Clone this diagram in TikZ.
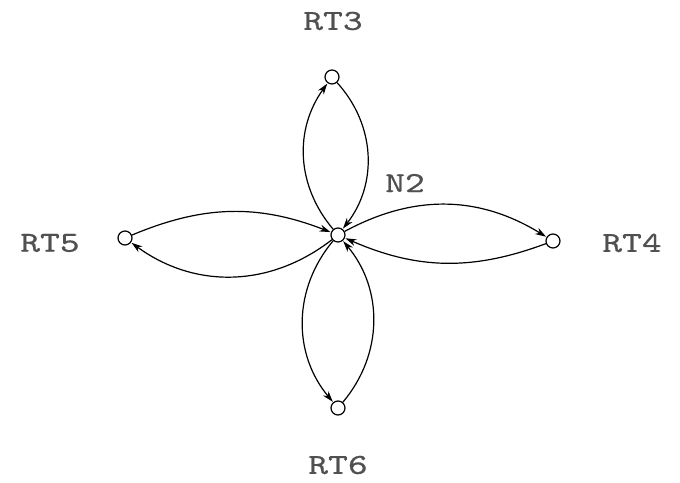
\documentclass[tikz,border=0pt]{standalone}
\usepackage{fontspec}
\usetikzlibrary{arrows.meta}
\newfontfamily\labfont{lmmono10-regular.otf}[FakeStretch=1.3,FakeBold=0.6]
\definecolor{labgray}{HTML}{505050}
\begin{document}
\begin{tikzpicture}[x=1pt,y=-1pt,
  vtx/.style={circle,draw=black,line width=1.2pt,fill=white,minimum size=14pt,inner sep=0pt},
  lab/.style={text=labgray,font=\labfont\fontsize{29}{30}\selectfont,inner sep=0pt},
  edge/.style={line width=1.2pt,-{Stealth[length=11pt,width=7pt]},shorten >=0.5pt}]
\useasboundingbox (0,0) rectangle (680,482);
\node[vtx] (N2) at (338,235) {};
\node[vtx] (RT3) at (332,77) {};
\node[vtx] (RT5) at (125,238) {};
\node[vtx] (RT4) at (553,241) {};
\node[vtx] (RT6) at (338,408) {};
\node[lab] (lRT3) at (333,21) {RT3};
\node[lab] (lN2) at (405,183) {N2};
\node[lab] (lRT5) at (50,243) {RT5};
\node[lab] (lRT4) at (632,243) {RT4};
\node[lab] (lRT6) at (338,465) {RT6};
\draw[edge] (N2) to[bend left=38] (RT3);
\draw[edge] (RT3) to[bend left=40] (N2);
\draw[edge] (RT5) to[bend left=22] (N2);
\draw[edge] (N2) to[bend left=37] (RT5);
\draw[edge] (N2) to[bend left=30] (RT4);
\draw[edge] (RT4) to[bend left=22] (N2);
\draw[edge] (N2) to[bend right=40] (RT6);
\draw[edge] (RT6) to[bend right=40] (N2);
\end{tikzpicture}
\end{document}
